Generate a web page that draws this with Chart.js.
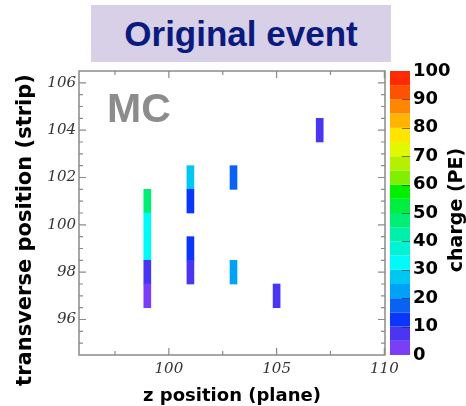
<!DOCTYPE html>
<html>
<head>
<meta charset="utf-8">
<script src="https://cdn.jsdelivr.net/npm/chart.js@4.4.1/dist/chart.umd.min.js"></script>
<style>
  body { margin: 0; background: #fff; }
  #wrap { position: relative; width: 466px; height: 406px; }
  #event { position: absolute; left: 0; top: 0; }
  .banner {
    position: absolute; left: 91px; top: 5px; width: 300px; height: 57px;
    background: #d8d0e7; color: #0b1a7e; text-align: center;
    font: bold 35px "Liberation Sans", Arial, sans-serif; line-height: 57px;
  }
</style>
</head>
<body>
<div id="wrap">
  <canvas id="event" width="466" height="406"></canvas>
  <div class="banner">Original event</div>
</div>
<script>
// hits: plane (z), strip (transverse) and charge in PE
const planes  = [99, 99, 99, 99, 99, 101, 101, 101, 101, 103, 103, 105, 107]
const strips  = [101, 100, 99, 98, 97, 102, 101, 99, 98, 102, 98, 97, 104]
const charges = [48, 33, 33, 8, 3, 27, 12, 12, 7, 17, 22, 8, 8]

const planeTicks  = [100, 105, 110]
const stripTicks  = [96, 98, 100, 102, 104, 106]
const chargeTicks = [0, 10, 20, 30, 40, 50, 60, 70, 80, 90, 100]

// 20 colour bands, 5 PE each, from 0 upwards
const palette = [
  "#7b3df5", "#4a35f2", "#0a35fa", "#0a62f2", "#00a2f5",
  "#00c6f2", "#00fafa", "#00f4d4", "#00f0aa", "#00ee74",
  "#00ee40", "#00f000", "#80f000", "#b4f000", "#e2f800",
  "#ffe400", "#ffb400", "#ff8600", "#ff5200", "#ff2a00"
]
const bandWidth = 100 / palette.length

function chargeColor(q) {
  return palette[Math.min(palette.length - 1, Math.floor(q / bandWidth))]
}

function rotatedText(ctx, text, x, y) {
  ctx.save()
  ctx.translate(x, y)
  ctx.rotate(-Math.PI / 2)
  ctx.fillText(text, 0, 0)
  ctx.restore()
}

// frame, inside ticks, colour bar and titles
const decorations = {
  id: "decorations",
  afterDraw(chart) {
    const { ctx, chartArea: a, scales: { x, y, z } } = chart
    ctx.save()

    palette.forEach((c, i) => {
      const top = z.getPixelForValue((i + 1) * bandWidth)
      const bottom = z.getPixelForValue(i * bandWidth)
      ctx.fillStyle = c
      ctx.fillRect(a.right + 5, top, 20, bottom - top)
    })
    ctx.strokeStyle = "rgba(40,40,40,0.6)"
    ctx.lineWidth = 1
    chargeTicks.slice(1, -1).forEach(v => {
      const py = Math.round(z.getPixelForValue(v)) + 0.5
      ctx.beginPath()
      ctx.moveTo(a.right + 17, py)
      ctx.lineTo(a.right + 25, py)
      ctx.stroke()
    })

    ctx.strokeStyle = "#8a8a8a"
    ctx.lineWidth = 1.2
    ctx.beginPath()
    for (let v = 97.5; v <= x.max; v += 2.5) {
      const px = x.getPixelForValue(v)
      const len = v % 5 === 0 ? 7 : 4
      ctx.moveTo(px, a.bottom); ctx.lineTo(px, a.bottom - len)
      ctx.moveTo(px, a.top); ctx.lineTo(px, a.top + len)
    }
    for (let v = 95; v < y.max; v += 0.5) {
      const py = y.getPixelForValue(v)
      const len = v % 2 === 0 ? 7 : 4
      ctx.moveTo(a.left, py); ctx.lineTo(a.left + len, py)
      ctx.moveTo(a.right, py); ctx.lineTo(a.right - len, py)
    }
    ctx.stroke()
    ctx.lineWidth = 1.5
    ctx.strokeRect(a.left, a.top, a.width, a.height)

    ctx.fillStyle = "#8c8c8c"
    ctx.font = "bold 41px 'Liberation Sans', Arial"
    ctx.textAlign = "left"
    ctx.textBaseline = "alphabetic"
    ctx.fillText("MC", 107, 122)

    ctx.fillStyle = "#000"
    ctx.textAlign = "center"
    ctx.textBaseline = "middle"
    ctx.font = "bold 18px 'DejaVu Sans'"
    ctx.fillText("z position (plane)", (a.left + a.right) / 2, 396)
    ctx.font = "bold 21px 'DejaVu Sans'"
    rotatedText(ctx, "transverse position (strip)", 26, 230)
    ctx.font = "bold 19px 'DejaVu Sans'"
    rotatedText(ctx, "charge (PE)", 457, 210)

    ctx.restore()
  }
}

const tickFont = { family: "'DejaVu Serif'", style: "italic", size: 15 }

new Chart(document.getElementById("event"), {
  type: "bar",
  data: {
    datasets: [{
      data: planes.map((p, i) => ({ x: p, y: [strips[i] - 0.5, strips[i] + 0.5] })),
      backgroundColor: c => chargeColor(charges[c.dataIndex]),
      barThickness: 7,
      borderWidth: 0,
    }]
  },
  options: {
    responsive: false,
    animation: false,
    layout: { padding: { top: 71 } },
    plugins: {
      legend: { display: false },
      tooltip: { enabled: false }
    },
    scales: {
      x: {
        type: "linear",
        min: 95.83,
        max: 110.03,
        offset: false,
        grid: { display: false, drawTicks: false },
        border: { display: false },
        ticks: { padding: 5, color: "#333", font: tickFont, maxRotation: 0 },
        afterBuildTicks: s => { s.ticks = planeTicks.map(value => ({ value })) },
        afterFit: s => { s.height = 51 }
      },
      y: {
        type: "linear",
        position: "left",
        min: 94.5,
        max: 106.5,
        grid: { display: false, drawTicks: false },
        border: { display: false },
        ticks: { padding: 3, color: "#333", font: tickFont },
        afterBuildTicks: s => { s.ticks = stripTicks.map(value => ({ value })) },
        afterFit: s => { s.width = 79 }
      },
      z: {
        type: "linear",
        axis: "y",
        position: "right",
        min: 0,
        max: 100,
        grid: { display: false, drawTicks: false },
        border: { display: false },
        ticks: { padding: 28, color: "#000", font: { family: "'DejaVu Sans'", weight: "bold", size: 18 } },
        afterBuildTicks: s => { s.ticks = chargeTicks.map(value => ({ value })) },
        afterFit: s => { s.width = 81 }
      }
    }
  },
  plugins: [decorations]
})
</script>
</body>
</html>
